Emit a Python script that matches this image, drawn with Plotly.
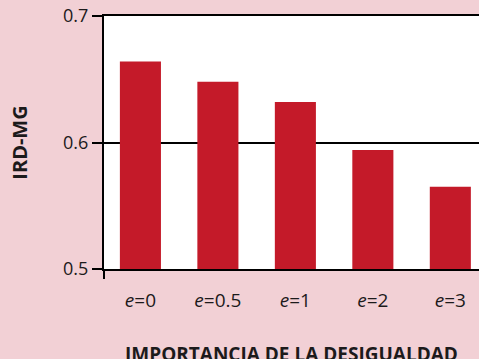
import plotly.graph_objects as go

# IRD-MG by inequality-aversion parameter e
e_values = ["0", "0.5", "1", "2", "3"]
ird_mg = [0.664, 0.648, 0.632, 0.594, 0.565]
y_ticks = [0.5, 0.6, 0.7]
y_tick_labels = ["0.5", "0.6", "0.7"]

categories = [f"e={v}" for v in e_values]
tick_text = [f"<i>e</i>={v}" for v in e_values]

FONT = "Open Sans"
TEXT = "#1c1a1b"
BG = "#f2d0d5"
BAR = "#c41a29"

fig = go.Figure(
    go.Bar(
        x=categories,
        y=ird_mg,
        marker=dict(color=BAR, line=dict(width=0)),
        width=0.53,
        hoverinfo="skip",
    )
)

fig.update_layout(
    width=479,
    height=359,
    margin=dict(l=104, r=0, t=16, b=90, autoexpand=False),
    paper_bgcolor=BG,
    plot_bgcolor="white",
    showlegend=False,
    font=dict(family=FONT, color=TEXT, size=18),
)

fig.update_xaxes(
    range=[-0.47, 4.37],
    tickvals=categories,
    ticktext=tick_text,
    ticks="",
    ticklabelstandoff=13,
    showline=True,
    mirror=True,
    linecolor="black",
    linewidth=2,
    showgrid=False,
    automargin=False,
    tickfont=dict(size=19),
)

fig.update_yaxes(
    range=[0.5, 0.7],
    tickvals=y_ticks,
    ticktext=y_tick_labels,
    ticks="outside",
    ticklen=10,
    tickwidth=2,
    tickcolor="black",
    showline=True,
    linecolor="black",
    linewidth=2,
    showgrid=True,
    gridcolor="black",
    gridwidth=2,
    zeroline=False,
    automargin=False,
    tickfont=dict(size=18),
    title=dict(text="<b>IRD-MG</b>", font=dict(size=20), standoff=30),
)

# category-axis title, sitting low against the bottom edge
fig.add_annotation(
    text="<b>IMPORTANCIA DE LA DESIGUALDAD</b>",
    xref="paper",
    yref="paper",
    x=0.5,
    y=-0.277,
    xanchor="center",
    yanchor="top",
    showarrow=False,
    font=dict(size=19, family=FONT, color=TEXT),
)

# short extension of the value axis below the baseline
fig.add_shape(
    type="line",
    xref="x domain",
    yref="y domain",
    x0=0,
    x1=0,
    y0=-0.04,
    y1=0,
    line=dict(color="black", width=2),
)

fig.write_html("out.html")
